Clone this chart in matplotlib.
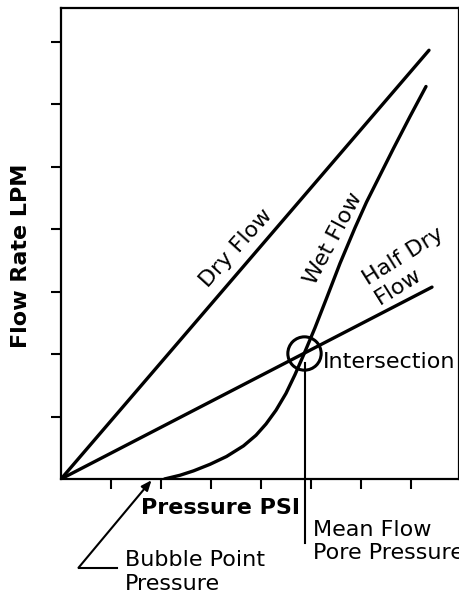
import matplotlib
matplotlib.use("Agg")
import matplotlib.pyplot as plt

# ---- data (arbitrary units) ----
dry_x = [0.0, 7.36]
dry_y = [0.0, 6.86]

half_x = [0.0, 7.42]
half_y = [0.0, 3.07]

wet_x = [2.07, 2.38, 2.65, 2.98, 3.31, 3.65, 3.90, 4.10, 4.30, 4.50, 4.68,
         4.86, 5.08, 5.31, 5.58, 5.88, 6.11, 6.38, 6.65, 6.98, 7.30]
wet_y = [0.00, 0.06, 0.13, 0.235, 0.36, 0.53, 0.70, 0.88, 1.10, 1.37, 1.67,
         2.00, 2.42, 2.89, 3.45, 4.02, 4.43, 4.86, 5.29, 5.80, 6.28]

intersection = (4.86, 2.01)
bubble_point = 1.81
mean_flow_pressure = 4.88

x_ticks = [1, 2, 3, 4, 5, 6, 7]
y_ticks = [1, 2, 3, 4, 5, 6, 7]

plt.rcParams['font.family'] = ['DejaVu Sans']

fig = plt.figure(figsize=(4.6, 5.99), dpi=100)
ax = fig.add_axes([61/460, 120/599, 398/460, 471/599])
ax.set_xlim(0, 7.96)
ax.set_ylim(0, 7.536)

lw = 2.4
ax.plot(dry_x, dry_y, color='black', lw=lw, solid_capstyle='round')
ax.plot(half_x, half_y, color='black', lw=lw, solid_capstyle='round')
ax.plot(wet_x, wet_y, color='black', lw=lw, solid_capstyle='round',
        solid_joinstyle='round')

# intersection circle
ax.plot([intersection[0]], [intersection[1]], marker='o', ms=24, mfc='none',
        mec='black', mew=2.2, clip_on=False)

# mean flow pore pressure line
ax.plot([mean_flow_pressure, mean_flow_pressure], [1.86, -1.02], color='black',
        lw=1.5, clip_on=False)

# bubble point arrow
ax.annotate('', xy=(bubble_point, -0.02), xytext=(0.35, -1.42),
            arrowprops=dict(arrowstyle='-|>,head_length=0.6,head_width=0.25',
                            color='black', lw=1.5, shrinkA=0, shrinkB=0),
            annotation_clip=False)
ax.plot([0.35, 1.13], [-1.42, -1.42], color='black', lw=1.5, clip_on=False)

fs = 16
ax.text(3.5, 3.70, 'Dry Flow', rotation=48, rotation_mode='anchor',
        ha='center', va='center', fontsize=fs)
ax.text(5.45, 3.85, 'Wet Flow', rotation=62, rotation_mode='anchor',
        ha='center', va='center', fontsize=fs)
ax.text(6.97, 3.41, 'Half Dry\nFlow', rotation=32, rotation_mode='anchor',
        ha='center', va='center', multialignment='left', fontsize=fs)
ax.text(5.24, 1.87, 'Intersection', ha='left', va='center', fontsize=fs)

ax.text(3.2, -0.46, 'Pressure PSI', ha='center', va='center', fontsize=fs,
        fontweight='bold')
ax.text(5.04, -0.656, 'Mean Flow\nPore Pressure', ha='left', va='top',
        fontsize=fs, linespacing=1.2)
ax.text(1.28, -1.14, 'Bubble Point\nPressure', ha='left', va='top',
        fontsize=fs, linespacing=1.25)

fig.text(21/460, 1 - 256/599, 'Flow Rate LPM', rotation=90, ha='center',
         va='center', fontsize=fs, fontweight='bold')

ax.set_xticks(x_ticks)
ax.set_yticks(y_ticks)
ax.set_xticklabels([])
ax.set_yticklabels([])
ax.tick_params(direction='out', length=7, width=1.5, color='black')
for s in ax.spines.values():
    s.set_linewidth(1.6)
    s.set_color('black')

fig.savefig('out.png', dpi=100)
